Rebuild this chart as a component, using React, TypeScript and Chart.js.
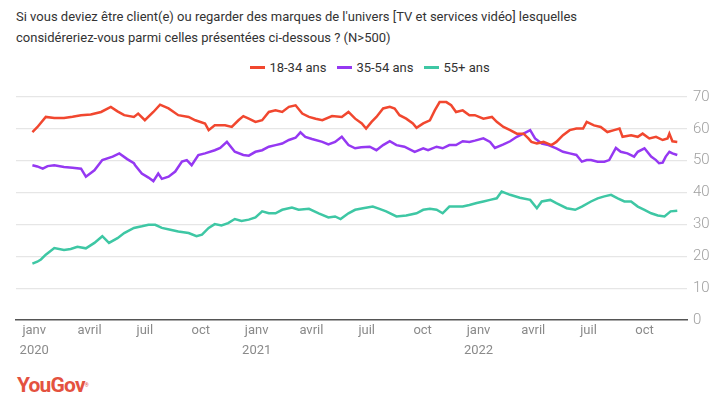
import React, { useEffect, useRef } from "react";
import { Chart, registerables } from "chart.js";

Chart.register(...registerables);

const titleLines = [
  "Si vous deviez être client(e) ou regarder des marques de l'univers [TV et services vidéo] lesquelles",
  "considéreriez-vous parmi celles présentées ci-dessous ? (N>500)",
];

const seriesNames = ["18-34 ans", "35-54 ans", "55+ ans"];
const seriesColors = ["#f1472f", "#9538f2", "#3ec7a4"];

// x = days since 1 Jan 2020
const tickDays = [0, 91, 182, 274, 366, 456, 547, 639, 731, 821, 912, 1004];
const tickMonths = ["janv", "avril", "juil", "oct", "janv", "avril", "juil", "oct", "janv", "avril", "juil", "oct"];
const tickYears = ["2020", "", "", "", "2021", "", "", "", "2022", "", "", ""];

const yTicks = [0, 10, 20, 30, 40, 50, 60, 70];

const days1834 = [-3, 5, 19, 33, 49, 63, 77, 93, 110, 126, 137, 148, 164, 171, 182, 196, 207, 221, 237, 254, 265, 281, 287, 297, 314, 325, 336, 344, 353, 364, 375, 386, 397, 408, 419, 430, 441, 452, 463, 474, 490, 506, 517, 528, 539, 546, 555, 563, 574, 585, 593, 601, 612, 623, 629, 640, 651, 659, 667, 678, 686, 694, 705, 716, 725, 739, 753, 761, 772, 783, 794, 805, 813, 818, 827, 838, 851, 859, 870, 881, 892, 903, 909, 921, 932, 943, 954, 963, 968, 982, 993, 1001, 1012, 1023, 1034, 1042, 1045, 1050, 1058];
const values1834 = [59, 60.5, 63.75, 63.4, 63.4, 63.8, 64.3, 64.5, 65.3, 66.9, 65.5, 64.3, 63.75, 64.8, 62.7, 65.3, 67.6, 66.4, 64.3, 63.75, 62.7, 61.7, 59.6, 61.1, 61.1, 60.6, 62.7, 64, 63.2, 62.2, 62.7, 65.3, 65.8, 65.3, 66.9, 67.4, 64.8, 63.75, 63.2, 62.7, 64, 63.75, 65.3, 63.2, 61.7, 60.1, 62.2, 63.75, 66.4, 66.9, 66.4, 64.3, 63.2, 61.7, 60.3, 61.7, 62.7, 65.8, 68.4, 68.4, 67.4, 65.3, 65.8, 64.3, 64.3, 63.2, 63.75, 62.2, 60.6, 59.6, 58.5, 58.5, 57, 55.9, 55.4, 55.9, 54.9, 55.9, 58, 59.6, 60.1, 60.1, 62.2, 61.1, 60.6, 59, 59.6, 60.1, 57.5, 58, 57.5, 58.5, 57, 57.5, 56.5, 57, 58.5, 56.1, 55.9];

const days3554 = [-3, 5, 14, 22, 33, 49, 63, 77, 85, 99, 112, 129, 140, 153, 164, 166, 177, 188, 196, 204, 210, 221, 232, 243, 251, 259, 270, 281, 297, 306, 317, 330, 344, 353, 364, 375, 386, 397, 408, 419, 430, 438, 446, 457, 474, 484, 495, 506, 517, 528, 538, 552, 563, 574, 585, 596, 609, 626, 640, 648, 662, 672, 683, 694, 705, 716, 725, 739, 750, 758, 772, 783, 794, 805, 816, 824, 835, 846, 859, 870, 881, 892, 901, 909, 916, 927, 938, 946, 957, 965, 976, 987, 993, 1004, 1015, 1023, 1028, 1034, 1039, 1045, 1050, 1058];
const values3554 = [48.6, 48.2, 47.5, 48.3, 48.6, 48, 47.8, 47.5, 45, 47, 50.2, 51.3, 52.3, 50.5, 49.2, 48.6, 46, 44.7, 43.6, 46, 44.3, 45, 46.6, 49.7, 50.2, 48.6, 51.8, 52.3, 53.3, 54, 55.9, 52.8, 51.8, 51.6, 52.8, 53.3, 54.4, 54.9, 55.4, 56.5, 57.2, 58.9, 57.5, 56.8, 55.9, 55.1, 55.9, 57.5, 54.9, 53.9, 54.2, 54.4, 53.3, 54.9, 56.1, 54.9, 54.4, 52.8, 53.9, 53.3, 54.4, 53.9, 54.9, 54.9, 56.1, 55.9, 56.3, 57, 55.9, 54, 55.1, 56.1, 57.5, 58.5, 59.6, 57, 55.4, 54.9, 53.9, 52.8, 52.3, 51.8, 49.7, 50.2, 50.2, 49.7, 49.7, 50.2, 54, 52.8, 52.3, 51.3, 52.8, 53.9, 51.3, 50.2, 49.2, 49.4, 51.3, 52.8, 52.3, 51.8];

const days55 = [-3, 5, 11, 19, 33, 49, 60, 71, 85, 99, 112, 123, 137, 148, 164, 177, 188, 199, 210, 224, 237, 254, 267, 276, 287, 297, 308, 319, 330, 341, 353, 364, 375, 386, 397, 408, 424, 435, 452, 468, 484, 495, 504, 517, 528, 541, 557, 568, 579, 596, 612, 629, 640, 651, 662, 672, 683, 694, 705, 716, 728, 739, 750, 761, 769, 783, 799, 816, 827, 835, 849, 859, 876, 890, 901, 916, 927, 938, 949, 960, 971, 982, 993, 1004, 1015, 1026, 1037, 1047, 1058];
const values55 = [17.7, 18.3, 19, 20.5, 22.6, 22, 22.3, 23, 22.5, 24.2, 26.3, 24.2, 25.7, 27.3, 28.9, 29.4, 29.9, 29.9, 28.9, 28.3, 27.8, 27.3, 26.3, 26.8, 28.9, 30.1, 29.7, 30.4, 31.7, 31.1, 31.5, 32.2, 34.1, 33.5, 33.5, 34.6, 35.3, 34.6, 34.9, 33.5, 32.2, 32.5, 31.7, 33.5, 34.6, 35.1, 35.6, 34.9, 34.1, 32.5, 32.8, 33.5, 34.6, 34.9, 34.6, 33.5, 35.6, 35.6, 35.6, 36.1, 36.7, 37.2, 37.7, 38.2, 40.3, 39.3, 38.4, 37.7, 35.1, 37.2, 37.7, 36.7, 35.1, 34.6, 35.6, 37.2, 38.2, 38.8, 39.3, 38.2, 37.2, 37.2, 35.6, 34.6, 33.5, 32.8, 32.5, 34.1, 34.3];

const FONT = "Roboto, 'Noto Sans', sans-serif";

function toPoints(days: number[], vals: number[]) {
  return days.map((d, i) => ({ x: d, y: vals[i] }));
}

export default function App() {
  const canvasRef = useRef<HTMLCanvasElement | null>(null);

  useEffect(() => {
    const canvas = canvasRef.current;
    if (!canvas) return;
    const seriesDays = [days1834, days3554, days55];
    const seriesVals = [values1834, values3554, values55];
    const chart = new Chart(canvas, {
      type: "line",
      data: {
        datasets: seriesNames.map((name, i) => ({
          label: name,
          data: toPoints(seriesDays[i], seriesVals[i]),
          borderColor: seriesColors[i],
          backgroundColor: seriesColors[i],
          borderWidth: 2.5,
          pointRadius: 0,
          tension: 0,
          fill: false,
        })),
      },
      options: {
        responsive: false,
        animation: false,
        devicePixelRatio: 1,
        layout: { padding: { left: 16, top: 17, right: 0, bottom: 0 } },
        plugins: {
          legend: { display: false },
          tooltip: { enabled: false },
          title: { display: false },
        },
        scales: {
          x: {
            type: "linear",
            min: -30,
            max: 1074,
            grid: { display: false, drawTicks: false },
            border: { display: true, color: "#555555", width: 1.5 },
            afterBuildTicks: (scale: any) => {
              scale.ticks = tickDays.map((v) => ({ value: v }));
            },
            afterFit: (scale: any) => {
              scale.height = 50;
            },
            ticks: {
              autoSkip: false,
              maxRotation: 0,
              padding: 1,
              color: "#8a8a8a",
              font: { family: FONT, size: 13, lineHeight: 1.55 },
              callback: (value: any) => {
                const idx = tickDays.indexOf(Number(value));
                if (idx < 0) return "";
                return tickYears[idx] ? [tickMonths[idx], tickYears[idx]] : tickMonths[idx];
              },
            },
          },
          y: {
            position: "right",
            min: 0,
            max: 70,
            afterBuildTicks: (scale: any) => {
              scale.ticks = yTicks.map((v) => ({ value: v }));
            },
            afterFit: (scale: any) => {
              scale.width = 41;
            },
            grid: {
              drawTicks: false,
              color: (ctx: any) => (ctx.tick && ctx.tick.value === 0 ? "rgba(0,0,0,0)" : "#e6e6e6"),
              lineWidth: 1.2,
            },
            border: { display: false },
            ticks: {
              padding: 6,
              color: "#a0a0a0",
              font: { family: FONT, size: 15, weight: "300" as any },
            },
          },
        },
      },
    });
    return () => chart.destroy();
  }, []);

  return (
    <div
      style={{
        position: "fixed",
        left: 0,
        top: 0,
        width: 728,
        height: 410,
        background: "#ffffff",
        fontFamily: FONT,
        overflow: "hidden",
      }}
    >
      <div
        style={{
          position: "absolute",
          left: 16,
          top: 6,
          fontSize: 13,
          lineHeight: "21px",
          color: "#333333",
        }}
      >
        {titleLines.map((t, i) => (
          <div key={i}>{t}</div>
        ))}
      </div>
      <div
        style={{
          position: "absolute",
          left: 0,
          top: 60,
          width: 740,
          display: "flex",
          justifyContent: "center",
          alignItems: "center",
          fontSize: 13,
          color: "#333333",
          gap: 11,
        }}
      >
        {seriesNames.map((n, i) => (
          <div key={n} style={{ display: "flex", alignItems: "center", gap: 4 }}>
            <span style={{ display: "inline-block", width: 15, height: 3, background: seriesColors[i] }} />
            <span>{n}</span>
          </div>
        ))}
      </div>
      <canvas
        ref={canvasRef}
        width={728}
        height={290}
        style={{ position: "absolute", left: 0, top: 80, width: 728, height: 290 }}
      />
      <div
        style={{
          position: "absolute",
          left: 17,
          top: 373,
          fontSize: 21,
          fontWeight: 700,
          color: "#e4523f",
          letterSpacing: -0.8,
          lineHeight: "24px",
          fontFamily: "Roboto, sans-serif",
        }}
      >
        YouGov<sup style={{ fontSize: 5, fontWeight: 400, verticalAlign: "top", letterSpacing: 0 }}>®</sup>
      </div>
    </div>
  );
}
